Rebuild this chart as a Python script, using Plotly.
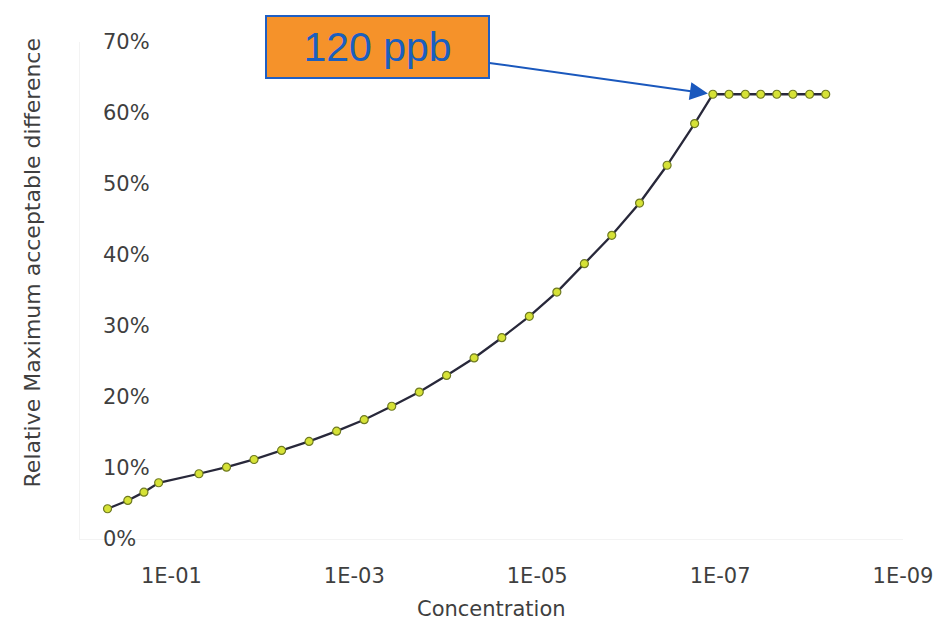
import math
import plotly.graph_objects as go

# Data
concentration = [0.5, 0.3, 0.2, 0.138,
                 0.05, 0.025, 0.0125, 0.00625, 0.003125, 0.0015625, 7.8e-4, 3.9e-4,
                 1.95e-4, 9.8e-5, 4.9e-5, 2.44e-5, 1.22e-5, 6.1e-6, 3.05e-6, 1.53e-6,
                 7.6e-7, 3.8e-7, 1.9e-7, 1.2e-7,
                 8.0e-8, 5.3e-8, 3.6e-8, 2.4e-8, 1.6e-8, 1.05e-8, 7.0e-9]
rel_max_diff_pct = [4.26, 5.43, 6.6, 7.92,
                    9.19, 10.12, 11.2, 12.47, 13.74, 15.19, 16.8, 18.7,
                    20.69, 23.04, 25.5, 28.35, 31.36, 34.78, 38.78, 42.77,
                    47.32, 52.64, 58.51, 62.64,
                    62.64, 62.64, 62.64, 62.64, 62.64, 62.64, 62.64]
x_tick_vals = [1e-1, 1e-3, 1e-5, 1e-7, 1e-9]
x_tick_text = ["1E-01", "1E-03", "1E-05", "1E-07", "1E-09"]
y_tick_vals = [0, 0.1, 0.2, 0.3, 0.4, 0.5, 0.6, 0.7]
annot_conc = 1.2e-7
annot_value_pct = 62.64
annot_text = "120 ppb"

FONT = "DejaVu Sans"
TXT = "#3f3f3f"
TICK_SIZE = 21

fig = go.Figure()
fig.add_trace(go.Scatter(
    x=concentration,
    y=[v / 100 for v in rel_max_diff_pct],
    mode="lines+markers",
    line=dict(color="#28283a", width=2.3),
    marker=dict(size=8, color="#d6e236", line=dict(color="#6f7a22", width=1.2)),
    showlegend=False,
))

fig.update_layout(
    width=945, height=624,
    margin=dict(l=80, r=42, t=42, b=85),
    paper_bgcolor="white", plot_bgcolor="white",
    font=dict(family=FONT, color=TXT, size=TICK_SIZE),
    xaxis=dict(
        type="log", range=[0, -9],
        tickvals=x_tick_vals, ticktext=x_tick_text,
        showgrid=False, zeroline=False,
        showline=True, linecolor="#f3f3f3", linewidth=1,
        ticks="", ticklabelstandoff=18,
        tickfont=dict(family=FONT, size=TICK_SIZE, color=TXT),
    ),
    yaxis=dict(
        range=[0, 0.7], tickvals=y_tick_vals,
        showgrid=False, zeroline=False, showticklabels=False,
        showline=True, linecolor="#f3f3f3", linewidth=1,
        ticks="",
    ),
)

annotations = [
    dict(text=f"{round(v * 100)}%", xref="paper", yref="y", x=0.0255, y=v,
         xanchor="left", yanchor="middle", showarrow=False,
         font=dict(family=FONT, size=TICK_SIZE, color=TXT))
    for v in y_tick_vals
]
annotations += [
    dict(text="Concentration", xref="paper", yref="paper", x=0.5, y=-0.14,
         xanchor="center", yanchor="middle", showarrow=False,
         font=dict(family=FONT, size=21, color=TXT)),
    dict(text="Relative Maximum acceptable difference", xref="paper", yref="paper",
         x=-0.058, y=0.555, xanchor="center", yanchor="middle", textangle=-90,
         showarrow=False, font=dict(family=FONT, size=22, color=TXT)),
    dict(text=annot_text, x=math.log10(annot_conc), y=annot_value_pct / 100,
         xref="x", yref="y", showarrow=True, arrowhead=2, arrowsize=1.8,
         arrowwidth=2, arrowcolor="#1a58bd", standoff=5,
         ax=-335, ay=-47, axref="pixel", ayref="pixel",
         bgcolor="#f5922a", bordercolor="#1f5fc4", borderwidth=2, borderpad=0,
         width=221, height=60, align="center", valign="middle",
         font=dict(family="Liberation Sans", size=41, color="#1a5fbf")),
]
fig.update_layout(annotations=annotations)

fig.write_html("out.html")
